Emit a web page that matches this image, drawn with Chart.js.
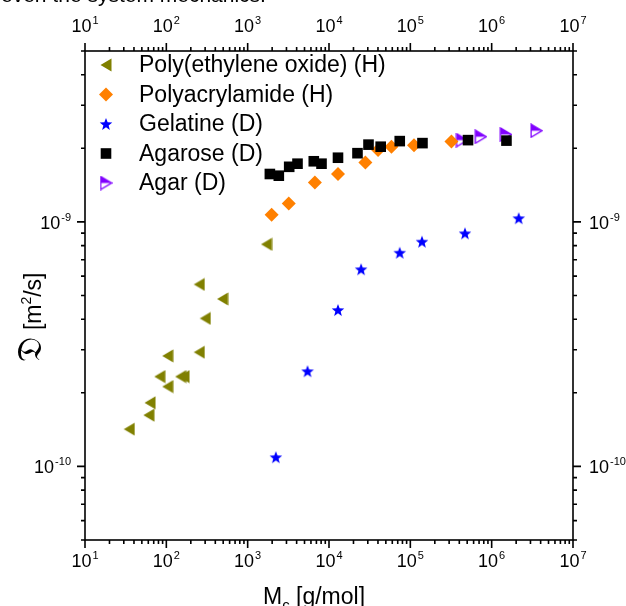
<!DOCTYPE html>
<html>
<head>
<meta charset="utf-8">
<script src="https://cdn.jsdelivr.net/npm/chart.js@4.4.0/dist/chart.umd.min.js"></script>
<style>
  html, body { margin: 0; padding: 0; background: #fff; overflow: hidden; }
  #wrap { position: relative; width: 626px; height: 606px; }
  #cut { position: absolute; left: 1px; top: -17px; font: 21px Arial, "Liberation Sans", sans-serif; color: #000; white-space: nowrap; }
  canvas { display: block; }
</style>
</head>
<body>
<div id="wrap">
  <div id="cut">even the system mechanics.</div>
  <canvas id="chart" width="626" height="606"></canvas>
</div>
<script>
// molar mass (g/mol) and diffusion coefficient (m^2/s)
const peoM = [35, 61, 63, 104, 83, 150, 165, 104, 254, 301, 254, 492, 1706];
const peoD = [1.42e-10, 1.62e-10, 1.82e-10, 2.12e-10, 2.33e-10, 2.33e-10, 2.33e-10, 2.83e-10, 2.93e-10, 4.03e-10, 5.55e-10, 4.84e-10, 8.1e-10];
const pamM = [1970, 3200, 6700, 12900, 28000, 40100, 58600, 111000, 320000];
const pamD = [1.07e-9, 1.19e-9, 1.45e-9, 1.57e-9, 1.75e-9, 1.97e-9, 2.03e-9, 2.06e-9, 2.13e-9];
const gelM = [2220, 5450, 12900, 24800, 74100, 139000, 470000, 2150000];
const gelD = [1.09e-10, 2.45e-10, 4.36e-10, 6.4e-10, 7.48e-10, 8.3e-10, 8.98e-10, 1.035e-9];
const agaroseM = [1875, 2415, 3240, 4100, 6500, 8090, 12900, 22400, 30600, 43200, 74100, 141000, 512000, 1520000];
const agaroseD = [1.57e-9, 1.545e-9, 1.68e-9, 1.73e-9, 1.77e-9, 1.73e-9, 1.83e-9, 1.91e-9, 2.07e-9, 2.03e-9, 2.14e-9, 2.1e-9, 2.16e-9, 2.15e-9];
const agarM = [431000, 733000, 1490000, 3540000];
const agarD = [2.16e-9, 2.23e-9, 2.28e-9, 2.36e-9];

const labels = ['Poly(ethylene oxide) (H)', 'Polyacrylamide (H)', 'Gelatine (D)', 'Agarose (D)', 'Agar (D)'];
const xDecades = [1, 2, 3, 4, 5, 6, 7];
const yDecades = [-10, -9];

const FONT = 'Arial, "Liberation Sans", sans-serif';

function pts(xs, ys) { return xs.map((x, i) => ({x: x, y: ys[i]})); }

function markCanvas(w, h, draw) {
  const c = document.createElement('canvas');
  c.width = w; c.height = h;
  draw(c.getContext('2d'), w, h);
  return c;
}
const leftTri = markCanvas(12, 14, (g, w, h) => {
  g.beginPath(); g.moveTo(0.5, h / 2); g.lineTo(w - 0.5, 0.5); g.lineTo(w - 0.5, h - 0.5); g.closePath();
  g.fillStyle = '#808000'; g.fill();
});
const star = markCanvas(14, 14, (g, w, h) => {
  const R = 6.6, r = R * 0.42;
  g.beginPath();
  for (let i = 0; i < 10; i++) {
    const a = -Math.PI / 2 + i * Math.PI / 5, rr = i % 2 ? r : R;
    g.lineTo(w / 2 + rr * Math.cos(a), h / 2 + 0.6 + rr * Math.sin(a));
  }
  g.closePath(); g.fillStyle = '#0000ff'; g.fill();
});
const halfTri = markCanvas(13, 15, (g, w, h) => {
  g.beginPath(); g.moveTo(1.2, 1); g.lineTo(1.2, h - 1); g.lineTo(w - 1, h / 2); g.closePath();
  g.save(); g.clip(); g.fillStyle = '#8000ff'; g.fillRect(0, 0, w, h / 2); g.restore();
  g.lineWidth = 1.3; g.strokeStyle = '#8000ff'; g.stroke();
});

function pow10(ctx, e, x, y, align) {
  const base = '10', ex = String(e);
  ctx.font = '18px ' + FONT;
  const wb = ctx.measureText(base).width;
  ctx.font = '11px ' + FONT;
  const we = ctx.measureText(ex).width;
  const tw = wb + we + 1;
  let x0 = x;
  if (align === 'center') x0 = x - tw / 2;
  else if (align === 'right') x0 = x - tw;
  ctx.textAlign = 'left'; ctx.textBaseline = 'alphabetic';
  ctx.font = '18px ' + FONT; ctx.fillText(base, x0, y);
  ctx.font = '11px ' + FONT; ctx.fillText(ex, x0 + wb + 1, y - 8);
}

const frameAxes = {
  id: 'frameAxes',
  afterDraw(chart) {
    const ctx = chart.ctx, a = chart.chartArea;
    const xs = chart.scales.x, ys = chart.scales.y;
    ctx.save();
    ctx.strokeStyle = '#000'; ctx.fillStyle = '#000'; ctx.lineWidth = 1.6;
    ctx.strokeRect(a.left, a.top, a.right - a.left, a.bottom - a.top);
    ctx.beginPath();
    for (let e = 1; e <= 6; e++) {
      for (let m = 1; m <= 10; m++) {
        const v = m * Math.pow(10, e);
        if (v > 1e7) continue;
        const px = xs.getPixelForValue(v), len = (m === 1 || m === 10) ? 8 : 4;
        ctx.moveTo(px, a.bottom); ctx.lineTo(px, a.bottom + len);
        ctx.moveTo(px, a.top); ctx.lineTo(px, a.top - len);
      }
    }
    for (let e = -11; e <= -9; e++) {
      for (let m = 1; m <= 9; m++) {
        const v = m * Math.pow(10, e);
        if (v < 4.99e-11 || v > 5.01e-9) continue;
        const py = ys.getPixelForValue(v), len = m === 1 ? 8 : 4;
        ctx.moveTo(a.left, py); ctx.lineTo(a.left - len, py);
        ctx.moveTo(a.right, py); ctx.lineTo(a.right + len, py);
      }
    }
    ctx.stroke();
    xDecades.forEach(e => {
      const px = xs.getPixelForValue(Math.pow(10, e));
      pow10(ctx, e, px, a.bottom + 27, 'center');
      pow10(ctx, e, px, a.top - 19, 'center');
    });
    yDecades.forEach(e => {
      const py = ys.getPixelForValue(Math.pow(10, e));
      pow10(ctx, e, a.left - 14, py + 7, 'right');
      pow10(ctx, e, a.right + 16, py + 7, 'left');
    });
    // x title
    ctx.font = '23px ' + FONT;
    const wM = ctx.measureText('M').width;
    ctx.font = '15px ' + FONT;
    const wc = ctx.measureText('c').width;
    const x0 = a.left + 178, by = a.bottom + 64;
    ctx.textAlign = 'left';
    ctx.font = '23px ' + FONT; ctx.fillText('M', x0, by);
    ctx.font = '15px ' + FONT; ctx.fillText('c', x0 + wM, by + 6);
    ctx.font = '23px ' + FONT; ctx.fillText(' [g/mol]', x0 + wM + wc, by);
    // y title
    ctx.translate(a.left - 44, a.top + 266);
    ctx.rotate(-Math.PI / 2);
    ctx.font = '34px "DejaVu Serif", "DejaVu Sans", serif';
    const wD = ctx.measureText('\u{1D507}').width;
    ctx.font = '23px ' + FONT;
    const w1 = ctx.measureText(' [m').width, w3 = ctx.measureText('/s]').width;
    ctx.font = '14px ' + FONT;
    const w2 = ctx.measureText('2').width;
    let t = -(wD + w1 + w2 + w3) / 2;
    ctx.font = '34px "DejaVu Serif", "DejaVu Sans", serif'; ctx.fillText('\u{1D507}', t, 0); t += wD;
    ctx.font = '23px ' + FONT; ctx.fillText(' [m', t, 0); t += w1;
    ctx.font = '14px ' + FONT; ctx.fillText('2', t, -10); t += w2;
    ctx.font = '23px ' + FONT; ctx.fillText('/s]', t, 0);
    ctx.restore();
  }
};

const insideLegend = {
  id: 'insideLegend',
  afterDraw(chart) {
    const ctx = chart.ctx, a = chart.chartArea;
    ctx.save();
    chart.data.datasets.forEach((ds, i) => {
      const y = a.top + 14 + i * 29.5, mx = a.left + 21;
      const st = ds.pointStyle;
      if (typeof st === 'string') {
        ctx.fillStyle = ds.backgroundColor; ctx.strokeStyle = ds.borderColor;
        Chart.helpers.drawPoint(ctx, {pointStyle: st, radius: ds.pointRadius, rotation: 0, borderWidth: 0}, mx, y);
      } else {
        ctx.drawImage(st, mx - st.width / 2, y - st.height / 2);
      }
      ctx.font = '23px ' + FONT; ctx.fillStyle = '#000';
      ctx.textAlign = 'left'; ctx.textBaseline = 'middle';
      ctx.fillText(ds.label, a.left + 54, y + 1);
    });
    ctx.restore();
  }
};

new Chart(document.getElementById('chart'), {
  type: 'scatter',
  data: {
    datasets: [
      {label: labels[0], data: pts(peoM, peoD), pointStyle: leftTri, order: 5},
      {label: labels[1], data: pts(pamM, pamD), pointStyle: 'rectRot', pointRadius: 7, backgroundColor: '#ff8000', borderColor: '#ff8000', borderWidth: 0, order: 2},
      {label: labels[2], data: pts(gelM, gelD), pointStyle: star, order: 4},
      {label: labels[3], data: pts(agaroseM, agaroseD), pointStyle: 'rect', pointRadius: 7.5, backgroundColor: '#000', borderColor: '#000', borderWidth: 0, order: 1},
      {label: labels[4], data: pts(agarM, agarD), pointStyle: halfTri, order: 3}
    ]
  },
  options: {
    responsive: false,
    animation: false,
    layout: {padding: {left: 85, right: 53, top: 51, bottom: 66}},
    plugins: {legend: {display: false}, tooltip: {enabled: false}},
    scales: {
      x: {type: 'logarithmic', min: 10, max: 1e7, display: false},
      y: {type: 'logarithmic', min: 5e-11, max: 5e-9, display: false}
    }
  },
  plugins: [frameAxes, insideLegend]
});
</script>
</body>
</html>
